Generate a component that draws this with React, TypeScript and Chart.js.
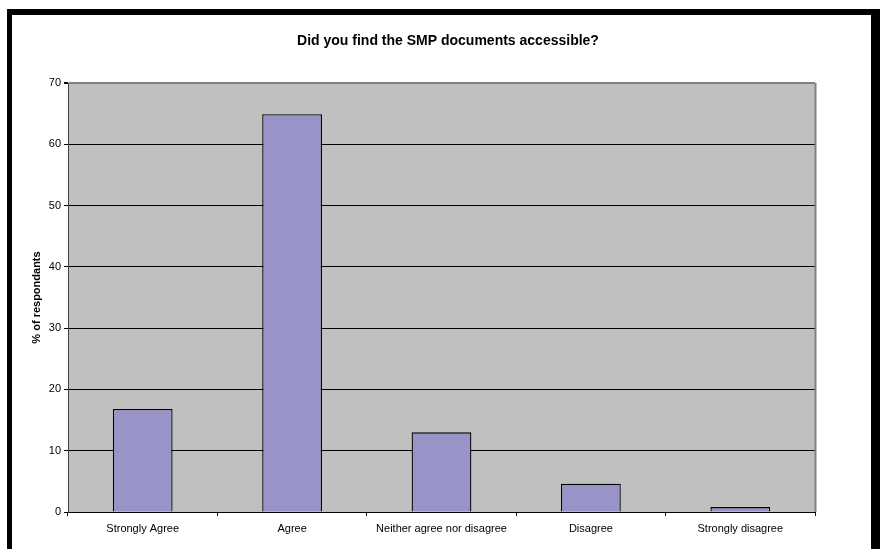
import React, { useEffect, useRef } from "react";
import { Chart, registerables } from "chart.js";

Chart.register(...registerables);

const categories = ["Strongly Agree", "Agree", "Neither agree nor disagree", "Disagree", "Strongly disagree"];
const percentValues = [16.8, 64.9, 13.0, 4.6, 0.8];
const yTicks = [0, 10, 20, 30, 40, 50, 60, 70];
const chartTitle = "Did you find the SMP documents accessible?";
const yAxisTitle = "% of respondants";

const FONT = "Arial, 'Liberation Sans', sans-serif";

const decorPlugin = {
  id: "decor",
  beforeDraw(chart: any) {
    const { ctx, chartArea } = chart;
    ctx.save();
    ctx.fillStyle = "#C0C0C0";
    ctx.fillRect(chartArea.left, chartArea.top, chartArea.right - chartArea.left, chartArea.bottom - chartArea.top);
    ctx.restore();
  },
  afterDraw(chart: any) {
    const { ctx, chartArea } = chart;
    ctx.save();
    ctx.strokeStyle = "#808080";
    ctx.lineWidth = 2;
    ctx.beginPath();
    ctx.moveTo(chartArea.right + 0.5, chartArea.top);
    ctx.lineTo(chartArea.right + 0.5, chartArea.bottom);
    ctx.stroke();
    ctx.fillStyle = "#000";
    ctx.textAlign = "center";
    ctx.textBaseline = "middle";
    ctx.font = `bold 14px ${FONT}`;
    ctx.fillText(chartTitle, 448, 41);
    ctx.translate(37, (chartArea.top + chartArea.bottom) / 2);
    ctx.rotate(-Math.PI / 2);
    ctx.font = `bold 11px ${FONT}`;
    ctx.fillText(yAxisTitle, 0, 0);
    ctx.restore();
  },
};

export default function App() {
  const canvasRef = useRef<HTMLCanvasElement | null>(null);

  useEffect(() => {
    if (!canvasRef.current) return;
    const chart = new Chart(canvasRef.current, {
      type: "bar",
      data: {
        labels: categories,
        datasets: [
          {
            data: percentValues,
            backgroundColor: "#9894C8",
            borderColor: "#000000",
            borderWidth: 1.3,
            barPercentage: 0.4,
            categoryPercentage: 1,
          },
        ],
      },
      options: {
        responsive: false,
        animation: false,
        layout: { padding: { left: 0, top: 83, right: 65, bottom: 0 } },
        plugins: { legend: { display: false }, tooltip: { enabled: false }, title: { display: false } },
        scales: {
          x: {
            offset: true,
            grid: {
              display: true,
              offset: true,
              drawOnChartArea: false,
              tickLength: 4,
              color: "#000",
            },
            border: { color: "#000", width: 1 },
            ticks: { color: "#000", font: { family: FONT, size: 11 }, padding: 6, maxRotation: 0, autoSkip: false },
            afterFit(scale: any) {
              scale.height = 37;
            },
          },
          y: {
            min: 0,
            max: 70,
            afterBuildTicks(scale: any) {
              scale.ticks = yTicks.map((v) => ({ value: v }));
            },
            grid: {
              color: (c: any) => (c.tick && c.tick.value === 70 ? "#808080" : "#000"),
              tickColor: "#000",
              tickLength: 4,
              lineWidth: (c: any) => (c.tick && c.tick.value === 70 ? 2 : 1),
            },
            border: { color: "#404040", width: 1 },
            ticks: { color: "#000", font: { family: FONT, size: 11 }, padding: 3 },
            afterFit(scale: any) {
              scale.width = 68;
            },
          },
        },
      },
      plugins: [decorPlugin],
    });
    return () => chart.destroy();
  }, []);

  return (
    <div style={{ position: "fixed", left: 0, top: 0, width: 880, height: 549, background: "#fff", overflow: "hidden" }}>
      <canvas ref={canvasRef} width={880} height={549} style={{ position: "absolute", left: 0, top: 0, width: 880, height: 549 }} />
      <div
        style={{
          position: "absolute",
          left: 7,
          top: 9,
          width: 873,
          height: 560,
          boxSizing: "border-box",
          borderTop: "6px solid #000",
          borderLeft: "5px solid #000",
          borderRight: "9px solid #000",
          pointerEvents: "none",
        }}
      />
    </div>
  );
}
